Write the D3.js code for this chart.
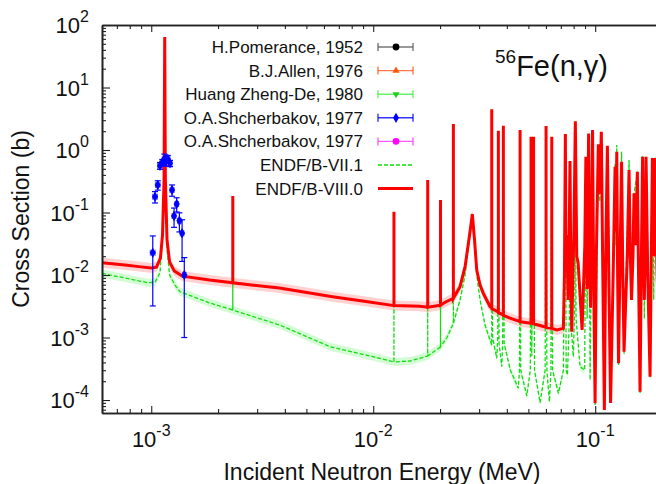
<!DOCTYPE html>
<html><head><meta charset="utf-8">
<script src="https://cdn.jsdelivr.net/npm/d3@7"></script>
<style>
html,body{margin:0;padding:0;background:#fff;}
svg{display:block;font-family:"Liberation Sans",Arial,Helvetica,sans-serif;}
</style></head><body>
<svg id="chart" width="656" height="484"></svg>
<script>
// ---------------- DATA (energy in MeV, cross section in barns) ----------------
const endf80 = [
 [6.0e-4,0.0157],[7.6e-4,0.0145],[9.0e-4,0.0135],[1.0e-3,0.0129],[1.056e-3,0.0134],[1.10e-3,0.0187],
 [1.124e-3,0.044],[1.142e-3,0.33],[1.150e-3,64],[1.158e-3,0.33],[1.178e-3,0.036],[1.21e-3,0.0161],
 [1.27e-3,0.0116],[1.38e-3,0.0096],[1.83e-3,0.0083],
 [2.33e-3,0.0075],[2.33e-3,0.184],[2.33e-3,0.0075],
 [3.78e-3,0.0062],[6.56e-3,0.0045],[9.62e-3,0.0037],
 [0.0124,0.00324],[0.0124,0.103],[0.0124,0.00324],
 [0.0162,0.00316],
 [0.0176,0.00306],[0.0176,0.331],[0.0176,0.00306],
 [0.0201,0.0033],[0.0201,0.158],[0.0201,0.0033],
 [0.0212,0.0037],
 [0.02297,0.00424],[0.02297,2.6],[0.02297,0.00424],
 [0.02461,0.0065],[0.02593,0.01358],[0.0271,0.041],[0.02797,0.0946],[0.02861,0.0363],[0.02927,0.012],
 [0.0303,0.00692],[0.03134,0.00509],[0.0336,0.00311],
 [0.0342,0.0030],[0.0342,4.48],[0.0342,0.0029],
 [0.03663,0.00256],[0.03663,2.04],[0.03663,0.0025],
 [0.03858,0.00229],[0.03858,2.45],[0.03858,0.00226],
 [0.04135,0.00205],
 [0.04589,0.00179],[0.04589,2.09],[0.04589,0.00179],
 [0.05141,0.00169],[0.05141,1.63],[0.0520,0.00168],[0.05279,1.63],[0.05279,0.00166],
 [0.06008,0.00146],[0.06008,2.42],[0.06008,0.00146],
 [0.06374,0.0014],[0.06374,1.63],[0.06374,0.0014],
 [0.0671,0.00132],[0.0719,0.0014],
 [0.0727,0.01],[0.0734,1.8],[0.0738,0.03],[0.0745,0.0437],[0.0755,0.004],
 [0.0762,0.02],[0.0770,0.667],[0.0776,0.02],[0.0784,0.00124],
 [0.0802,0.05],[0.0814,2.88],[0.0826,0.02],[0.0838,0.0156],[0.0873,0.00132],
 [0.0898,0.03],[0.0908,0.78],[0.0916,0.02],[0.0919,0.006],[0.0926,0.05],[0.0934,1.84],[0.0942,0.02],
 [0.0953,0.003],[0.0962,0.05],[0.0973,2.09],[0.0984,0.01],[0.0999,8.85e-5],
 [0.1012,0.02],[0.1033,1.23],[0.1049,0.2],[0.1066,1.96],[0.1080,0.02],[0.1100,6.9e-5],
 [0.1115,0.02],[0.1135,1.17],[0.1152,0.01],[0.1173,8.95e-5],
 [0.1205,0.01],[0.1229,0.54],[0.1240,0.05],[0.1251,0.94],[0.1262,0.01],[0.1274,3.87e-4],
 [0.1295,0.02],[0.1315,0.65],[0.1332,0.01],[0.1349,5.93e-4],
 [0.1395,0.02],[0.1421,0.479],[0.1440,0.02],[0.1458,0.004],
 [0.1480,0.02],[0.1496,0.203],[0.1520,0.03],[0.1549,0.45],[0.1568,0.01],[0.1593,1.36e-4],
 [0.1615,0.02],[0.1635,0.78],[0.1650,0.03],[0.1665,0.004],[0.1680,0.03],[0.1695,0.78],[0.1725,0.01],[0.1767,2.36e-4],
 [0.1790,0.02],[0.1810,0.745],[0.1835,0.02],[0.1861,0.745],[0.1900,0.01],[0.1940,0.0013],[0.2000,0.0019]
];
const endf71 = [
 [6.0e-4,0.0106],[7.62e-4,0.00895],[9.67e-4,0.00753],[1.040e-3,0.0077],[1.095e-3,0.0108],[1.12e-3,0.0363],
 [1.142e-3,0.3],[1.150e-3,60],[1.158e-3,0.3],[1.178e-3,0.025],[1.21e-3,0.010],[1.28e-3,0.0069],
 [1.348e-3,0.0054],[1.84e-3,0.00356],
 [2.33e-3,0.00275],[2.33e-3,0.18],[2.33e-3,0.00275],
 [3.80e-3,0.00158],[6.39e-3,7.13e-4],[9.98e-3,4.93e-4],
 [0.0124,4.07e-4],[0.0124,0.1],[0.0124,4.07e-4],
 [0.01466,4.21e-4],
 [0.0176,5.06e-4],[0.0176,0.33],[0.0176,5.06e-4],
 [0.0201,7.1e-4],[0.0201,0.155],[0.0201,7.1e-4],
 [0.0215,1.0e-3],
 [0.02297,1.69e-3],[0.02297,2.5],[0.02297,1.69e-3],
 [0.02461,0.004],[0.02593,0.010],[0.0271,0.0363],[0.02797,0.0847],[0.02861,0.0302],[0.02927,0.010],
 [0.0303,0.004],[0.0319,0.00158],[0.0336,9.1e-4],
 [0.0342,7.6e-4],[0.0342,4.3],[0.0345,0.001],[0.03602,4.65e-4],[0.0364,0.001],[0.03663,2.0],
 [0.0369,8e-4],[0.03795,3.41e-4],[0.0383,8e-4],[0.03858,2.4],[0.0389,8e-4],[0.0415,3.0e-4],
 [0.04508,1.54e-4],[0.0456,3e-4],[0.04589,2.0],[0.0462,3e-4],[0.0492,1.16e-4],[0.0510,3e-4],
 [0.05141,1.6],[0.0518,5e-4],[0.05279,1.6],[0.0533,3e-4],[0.05646,9.06e-5],[0.0595,3e-4],
 [0.06008,2.3],[0.0606,3e-4],[0.0622,9.4e-5],[0.0632,3e-4],[0.06374,1.6],[0.0643,3e-4],
 [0.0683,1.28e-4],[0.0719,3e-4],[0.0734,1.75],[0.0740,3e-4],[0.0750,2.5e-4],[0.0765,0.002],
 [0.0770,0.65],[0.0775,0.002],[0.0797,4.93e-4],[0.0810,0.004],[0.0814,2.8],[0.0820,0.002],
 [0.0855,3.41e-4],[0.0897,3.02e-4],[0.0908,0.76],[0.0920,0.002],[0.0934,1.8],[0.0949,2.09e-4],
 [0.0973,2.0],[0.0999,8.3e-5],
 [0.1033,1.2],[0.1049,0.15],[0.1066,1.9],[0.1100,7e-5],[0.1135,1.15],[0.1173,9e-5],
 [0.1229,0.6],[0.1240,0.03],[0.1251,1.2],[0.1274,3.6e-4],[0.1315,0.94],[0.1349,5.5e-4],
 [0.1421,0.69],[0.1458,0.004],[0.1496,0.2],[0.1549,0.45],[0.1593,1.3e-4],[0.1635,0.8],
 [0.1665,0.002],[0.1695,0.8],[0.1767,2.3e-4],[0.1810,0.75],[0.1835,0.004],[0.1861,0.75],
 [0.1940,0.0012],[0.2000,0.0018]
];
// O.A.Shcherbakov, 1977 (blue)
const shcherbakovE   = [1.016e-3,1.040e-3,1.070e-3,1.095e-3,1.122e-3,1.146e-3,1.166e-3,1.187e-3,1.215e-3,1.241e-3,1.267e-3,1.302e-3,1.339e-3,1.377e-3,1.409e-3];
const shcherbakovXS  = [0.0227,0.179,0.275,0.561,0.636,0.71,0.674,0.72,0.612,0.229,0.0879,0.137,0.0739,0.0465,0.010];
const shcherbakovErr = [0.0195,0.037,0.047,0.07,0.07,0.15,0.12,0.1,0.07,0.047,0.03,0.035,0.025,0.03,0.009];
const shcherbakovdE  = [2.5e-5,2.5e-5,2.5e-5,2.5e-5,2.5e-5,2.5e-5,2.5e-5,2.5e-5,2.5e-5,2.5e-5,2.5e-5,2.5e-5,2.5e-5,2.5e-5,2.5e-5];
// other experimental sets (no points inside the plotted window)
const pomeranceData = [];
const allenData = [];
const huangData = [];
const shcherbakov2Data = [];

const legendLabels = ["H.Pomerance, 1952","B.J.Allen, 1976","Huang Zheng-De, 1980","O.A.Shcherbakov, 1977","O.A.Shcherbakov, 1977","ENDF/B-VII.1","ENDF/B-VIII.0"];
const xMajorTicks = [1e-3,1e-2,1e-1];
const xTickExps = ["-3","-2","-1"];
const yMajorTicks = [1e-4,1e-3,1e-2,1e-1,1e0,1e1,1e2];
const yTickExps = ["-4","-3","-2","-1","0","1","2"];

// ---------------- CHART ----------------
const svg = d3.select("#chart");
const L=102, R=662, T=25, B=413;
const x = d3.scaleLog().domain([6e-4,0.2]).range([L,R]);
const y = d3.scaleLog().domain([6.2e-5,100]).range([B,T]);

svg.append("defs").append("clipPath").attr("id","clip")
  .append("rect").attr("x",L).attr("y",T).attr("width",R-L).attr("height",B-T);

const isMajor = v => Math.abs(Math.log10(v)-Math.round(Math.log10(v)))<1e-9;
const xMinor = x.ticks().filter(v=>!isMajor(v));
const yMinor = y.ticks().filter(v=>!isMajor(v));

const plot = svg.append("g").attr("clip-path","url(#clip)");
const line = d3.line().x(d=>x(d[0])).y(d=>y(d[1]));
const band = hw => d3.area().x(d=>x(d[0])).y0(d=>y(d[1])+hw).y1(d=>y(d[1])-hw);

// uncertainty bands (drawn as a constant-width halo around each curve)
plot.append("path").datum(endf71).attr("d",band(4)).attr("fill","#00ee00").attr("fill-opacity",0.17);
plot.append("path").datum(endf80).attr("d",band(5)).attr("fill","#ff0000").attr("fill-opacity",0.18);
// ENDF/B-VII.1
plot.append("path").datum(endf71).attr("d",line).attr("fill","none")
  .attr("stroke","#11dd11").attr("stroke-width",1.3).attr("stroke-dasharray","4,2");
// ENDF/B-VIII.0
plot.append("path").datum(endf80).attr("d",line).attr("fill","none")
  .attr("stroke","#ff0000").attr("stroke-width",3);

// experimental points
const blue = "#0000ff";
const pts = shcherbakovE.map((e,i)=>({e, s:shcherbakovXS[i], ds:shcherbakovErr[i], de:shcherbakovdE[i]}));
const eg = plot.append("g");
pts.forEach(p=>{
  const cx=x(p.e), cy=y(p.s), y0=y(p.s-p.ds), y1=y(p.s+p.ds), x0=x(p.e-p.de), x1=x(p.e+p.de);
  const g = eg.append("g").attr("stroke",blue).attr("stroke-width",1.2);
  g.append("line").attr("x1",cx).attr("x2",cx).attr("y1",y0).attr("y2",y1);
  g.append("line").attr("x1",cx-3).attr("x2",cx+3).attr("y1",y0).attr("y2",y0);
  g.append("line").attr("x1",cx-3).attr("x2",cx+3).attr("y1",y1).attr("y2",y1);
  g.append("line").attr("x1",x0).attr("x2",x1).attr("y1",cy).attr("y2",cy).attr("stroke-opacity",0.6);
  g.append("line").attr("x1",x0).attr("x2",x0).attr("y1",cy-3).attr("y2",cy+3).attr("stroke-opacity",0.6);
  g.append("line").attr("x1",x1).attr("x2",x1).attr("y1",cy-3).attr("y2",cy+3).attr("stroke-opacity",0.6);
  eg.append("path").attr("d",d3.symbol(d3.symbolDiamond,32)()).attr("transform",`translate(${cx},${cy})`).attr("fill",blue);
});

// axes
const axCol="#222";
function styleAxis(g){ g.selectAll("path.domain").attr("stroke",axCol).attr("stroke-width",1.6);
  g.selectAll(".tick line").attr("stroke",axCol).attr("stroke-width",1.1); g.selectAll("text").remove(); }
svg.append("g").attr("transform",`translate(0,${B})`).call(d3.axisBottom(x).tickValues(xMinor).tickSize(-4).tickSizeOuter(0)).call(styleAxis);
svg.append("g").attr("transform",`translate(0,${B})`).call(d3.axisBottom(x).tickValues(xMajorTicks).tickSize(-7).tickSizeOuter(0)).call(styleAxis);
svg.append("g").attr("transform",`translate(0,${T})`).call(d3.axisTop(x).tickValues(xMinor).tickSize(-4).tickSizeOuter(0)).call(styleAxis);
svg.append("g").attr("transform",`translate(0,${T})`).call(d3.axisTop(x).tickValues(xMajorTicks).tickSize(-7).tickSizeOuter(0)).call(styleAxis);
svg.append("g").attr("transform",`translate(${L},0)`).call(d3.axisLeft(y).tickValues(yMinor).tickSize(-4).tickSizeOuter(0)).call(styleAxis);
svg.append("g").attr("transform",`translate(${L},0)`).call(d3.axisLeft(y).tickValues(yMajorTicks).tickSize(-8).tickSizeOuter(0)).call(styleAxis);

// tick labels
const xl = svg.append("g").selectAll("text").data(xMajorTicks).join("text")
  .attr("x",d=>x(d)).attr("y",447).attr("text-anchor","middle").attr("font-size",22).attr("fill","#111");
xl.append("tspan").text("10");
xl.append("tspan").attr("dy",-11).attr("font-size",16).text((d,i)=>xTickExps[i]);
const yl = svg.append("g").selectAll("text").data(yMajorTicks).join("text")
  .attr("x",89).attr("y",d=>y(d)+8).attr("text-anchor","end").attr("font-size",22).attr("fill","#111");
yl.append("tspan").text("10");
yl.append("tspan").attr("dy",-11).attr("font-size",16).text((d,i)=>yTickExps[i]);

// axis titles
svg.append("text").attr("x",382).attr("y",480).attr("text-anchor","middle").attr("font-size",23).attr("fill","#111")
  .text("Incident Neutron Energy (MeV)");
svg.append("text").attr("transform","translate(28.5,219) rotate(-90)").attr("text-anchor","middle").attr("font-size",23).attr("fill","#111")
  .text("Cross Section (b)");

// title
const tt = svg.append("text").attr("x",495).attr("y",76).attr("fill","#111");
tt.append("tspan").attr("font-size",19).attr("dy",-13).text("56");
tt.append("tspan").attr("font-size",29).attr("dy",13).text("Fe(n,γ)");

// legend
const legY0 = 47, legDY = 23.6, lx0 = 378, lx1 = 413, lxm = 396;
const leg = svg.append("g");
legendLabels.forEach((lab,i)=>{
  const yy = legY0 + i*legDY;
  leg.append("text").attr("x",363).attr("y",yy+6).attr("text-anchor","end").attr("font-size",17).attr("fill","#111").text(lab);
});
const errCols = ["#555555","#ff5522","#44ee44","#0000ff","#ff33ff"];
const markCols = ["#000000","#ff5a00","#22cc22","#0000ff","#ff00ff"];
const markSyms = [d3.symbolCircle,d3.symbolTriangle,d3.symbolTriangle,d3.symbolDiamond,d3.symbolCircle];
const markSizes = [36,22,22,30,34];
errCols.forEach((c,i)=>{
  const yy = legY0 + i*legDY;
  const g = leg.append("g").attr("stroke",c).attr("stroke-width",1.4).attr("stroke-opacity",0.8);
  g.append("line").attr("x1",lx0).attr("x2",lx1).attr("y1",yy).attr("y2",yy);
  g.append("line").attr("x1",lx0).attr("x2",lx0).attr("y1",yy-4).attr("y2",yy+4);
  g.append("line").attr("x1",lx1).attr("x2",lx1).attr("y1",yy-4).attr("y2",yy+4);
  leg.append("path").attr("d",d3.symbol(markSyms[i],markSizes[i])())
    .attr("transform",`translate(${lxm},${yy})`+(i===2?" rotate(180)":"")).attr("fill",markCols[i]);
});
{
  const y5 = legY0 + 5*legDY, y6 = legY0 + 6*legDY;
  leg.append("line").attr("x1",lx0).attr("x2",lx1).attr("y1",y5).attr("y2",y5)
    .attr("stroke","#11dd11").attr("stroke-width",1.3).attr("stroke-dasharray","4,2");
  leg.append("line").attr("x1",lx0).attr("x2",lx1).attr("y1",y6).attr("y2",y6)
    .attr("stroke","#ff0000").attr("stroke-width",3);
}
</script>
</body></html>
